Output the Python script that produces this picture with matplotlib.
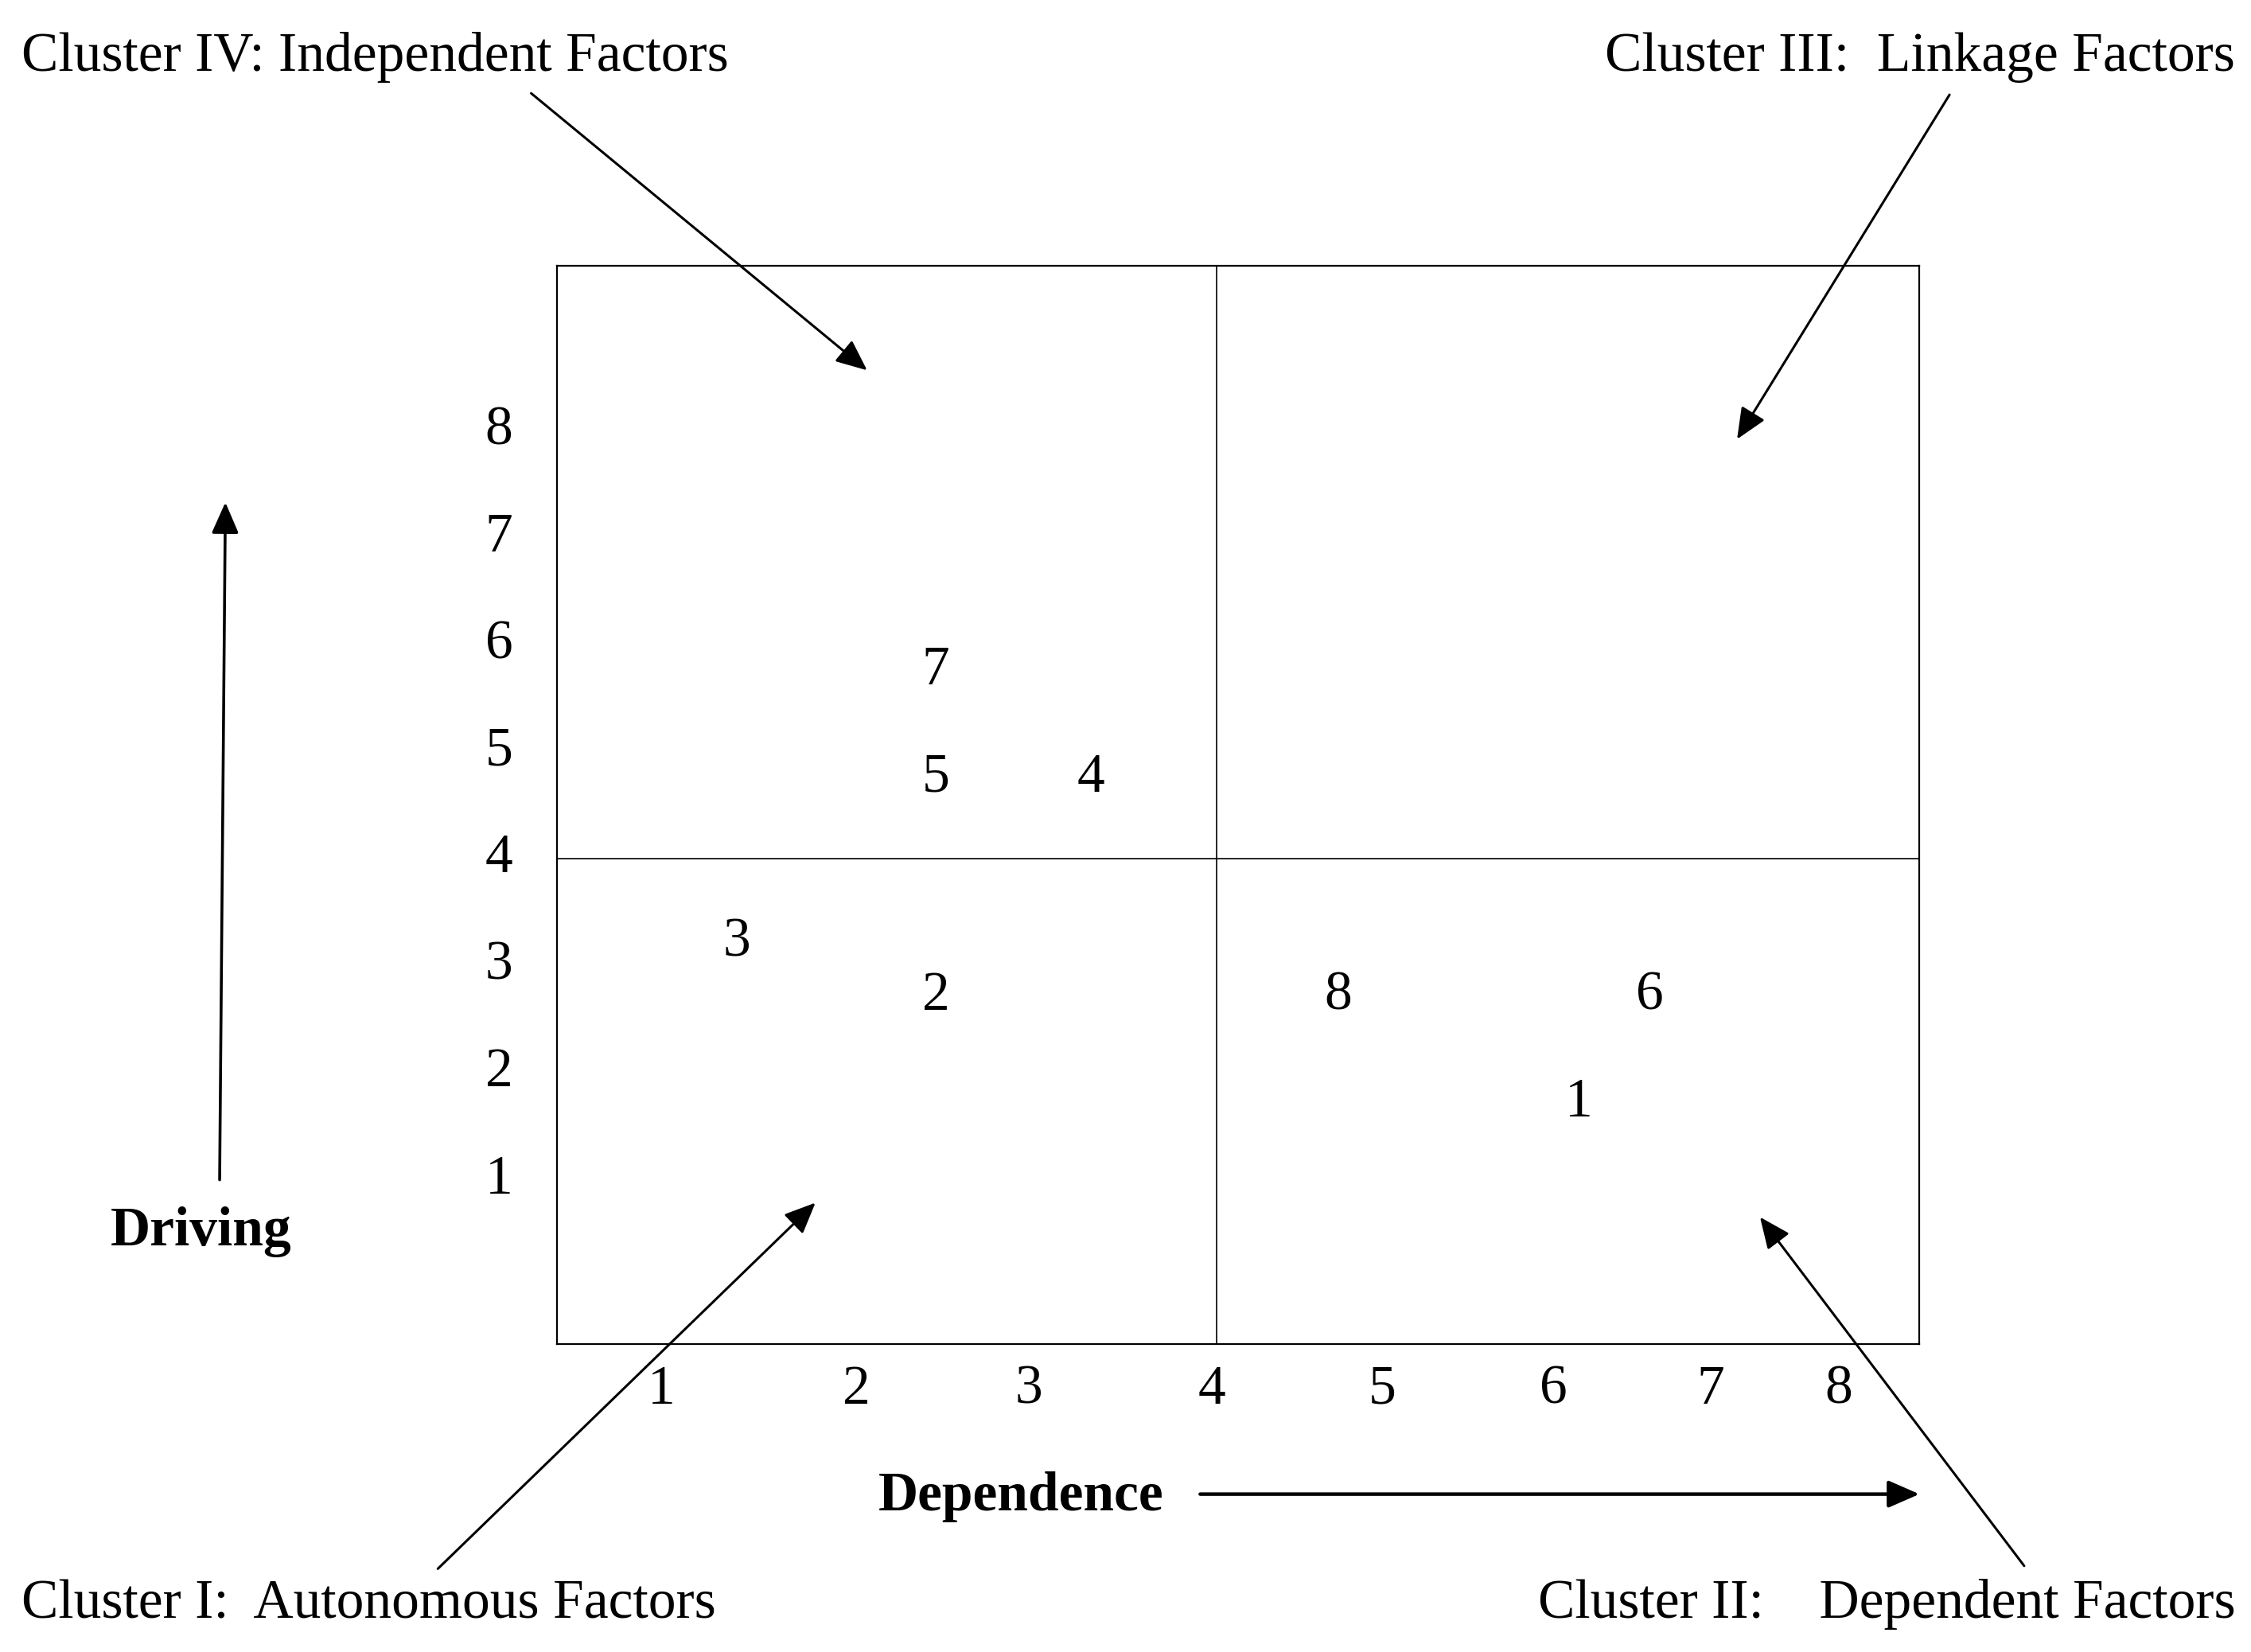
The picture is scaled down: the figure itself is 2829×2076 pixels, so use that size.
import matplotlib

matplotlib.use("Agg")
import matplotlib.pyplot as plt

plt.rcParams["font.family"] = ["Liberation Serif", "DejaVu Serif"]

# factor number, dependence power, driving power
factors = ["1", "2", "3", "4", "5", "6", "7", "8"]
dependence = [6.15, 2.33, 1.15, 3.25, 2.33, 6.57, 2.33, 4.72]
driving = [1.71, 2.71, 3.21, 4.75, 4.75, 2.71, 5.75, 2.71]

# the hand-drawn axis numbers are not evenly spaced along dependence
xtick_pos = [0.7, 1.86, 2.88, 3.97, 4.98, 6.0, 6.93, 7.69]
xtick_labels = ["1", "2", "3", "4", "5", "6", "7", "8"]
ytick_pos = [1.05, 2.05, 3.05, 4.05, 5.05, 6.05, 7.05, 8.05]
ytick_labels = ["1", "2", "3", "4", "5", "6", "7", "8"]

split = 4
FS = 50

W, H = 1568, 1151  # layout grid used for placing the annotations


def fp(x, y):
    return (x / W, 1 - y / H)


fig = plt.figure(figsize=(28.29, 20.76), dpi=100)
ax = fig.add_axes([0.2474, 0.1864, 0.6052, 0.6527])
ax.set_xlim(0.08, 8.17)
ax.set_ylim(-0.54, 9.54)
for s in ax.spines.values():
    s.set_linewidth(1.6)
ax.axvline(split, color="black", lw=1.2)
ax.axhline(split, color="black", lw=1.2)

for f, xd, yd in zip(factors, dependence, driving):
    ax.text(xd, yd, f, ha="center", va="center", fontsize=FS)

ax.set_xticks(xtick_pos, xtick_labels)
ax.set_yticks(ytick_pos, ytick_labels)
ax.tick_params(axis="x", length=0, pad=19, labelsize=FS)
ax.tick_params(axis="y", length=0, pad=40, labelsize=FS)

# cluster captions and their pointer arrows
fig.text(*fp(15, 40), "Cluster IV: Independent Factors", ha="left", va="center", fontsize=FS)
fig.text(*fp(1557, 40), "Cluster III:  Linkage Factors", ha="right", va="center", fontsize=FS)
fig.text(*fp(15, 1118), "Cluster I:  Autonomous Factors", ha="left", va="center", fontsize=FS)
fig.text(*fp(1557, 1118), "Cluster II:    Dependent Factors", ha="right", va="center", fontsize=FS)

arrows = [
    ((370, 65), (604, 258), 2.2),
    ((1358, 66), (1210, 306), 2.2),
    ((305, 1093), (568, 838), 2.2),
    ((1410, 1091), (1226, 848), 2.2),
    ((153, 822), (157, 350), 2.6),
    ((836, 1041), (1337, 1041), 3.2),
]
for (x0, y0), (x1, y1), lw in arrows:
    fig.add_artist(matplotlib.patches.FancyArrowPatch(
        fp(x0, y0), fp(x1, y1), transform=fig.transFigure,
        arrowstyle="-|>,head_length=0.8,head_width=0.35", mutation_scale=30,
        lw=lw, color="black", shrinkA=0, shrinkB=0))

fig.text(*fp(140, 858), "Driving", ha="center", va="center", fontsize=FS, fontweight="bold")
fig.text(*fp(711, 1043), "Dependence", ha="center", va="center", fontsize=FS, fontweight="bold")

fig.savefig("out.png", dpi=100, facecolor="white")
